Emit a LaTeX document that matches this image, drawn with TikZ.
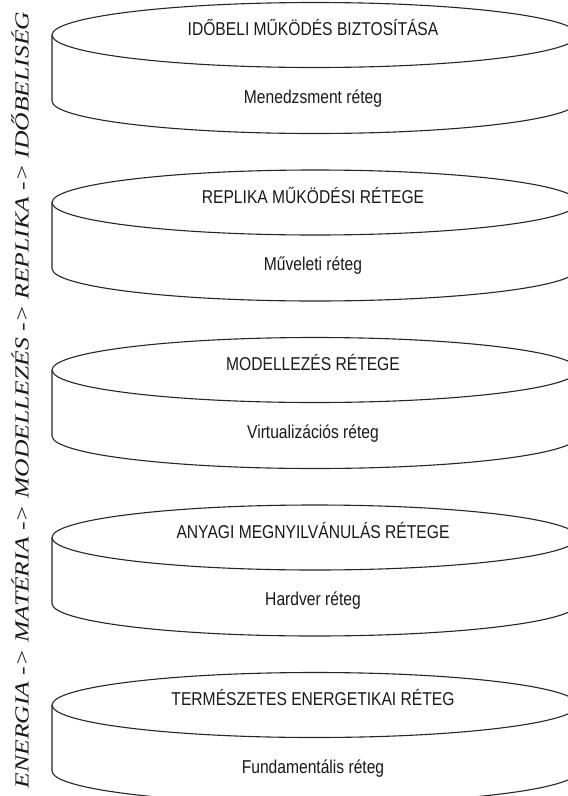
\documentclass[tikz,border=0pt]{standalone}
\usepackage{fontspec}
\setmainfont{Liberation Sans}[FakeStretch=0.84]
\newfontfamily\sidefont{Liberation Serif}[FakeStretch=1.28]
\begin{document}
\begin{tikzpicture}[x=1pt,y=1pt,
  cyl/.style={line width=1.1pt, draw=black!85, line join=round},
  toplabel/.style={anchor=base, inner sep=0pt, text=black!90, font=\fontsize{18.6}{22}\selectfont},
  sidelabel/.style={anchor=base, inner sep=0pt, rotate=90, text=black!90, font=\sidefont\itshape\fontsize{20}{24}\selectfont}]
\useasboundingbox (0,0) rectangle (568,-796);
\clip (0,0) rectangle (568,-796);
\fill[white] (0,0) rectangle (568,-796);
\foreach \i/\ta/\tb in {0/{IDŐBELI MŰKÖDÉS BIZTOSÍTÁSA}/{Menedzsment réteg},
                        1/{REPLIKA MŰKÖDÉSI RÉTEGE}/{Műveleti réteg},
                        2/{MODELLEZÉS RÉTEGE}/{Virtualizációs réteg},
                        3/{ANYAGI MEGNYILVÁNULÁS RÉTEGE}/{Hardver réteg},
                        4/{TERMÉSZETES ENERGETIKAI RÉTEG}/{Fundamentális réteg}} {
  \pgfmathsetmacro\yc{-35-167.5*\i}
  \draw[cyl] (315,\yc) ellipse [x radius=263, y radius=32.5];
  \draw[cyl] (52,\yc) -- (52,\yc-66)
     arc[start angle=180, end angle=360, x radius=263, y radius=32.5] -- (578,\yc);
  \node[toplabel] (top\i) at (313,\yc-0.7) {\ta};
  \node[toplabel] (bot\i) at (313,\yc-68.3) {\tb};
}
\node[sidelabel] (axis) at (28.5,-400) {ENERGIA -> MATÉRIA -> MODELLEZÉS -> REPLIKA -> IDŐBELISÉG};
\end{tikzpicture}
\end{document}
